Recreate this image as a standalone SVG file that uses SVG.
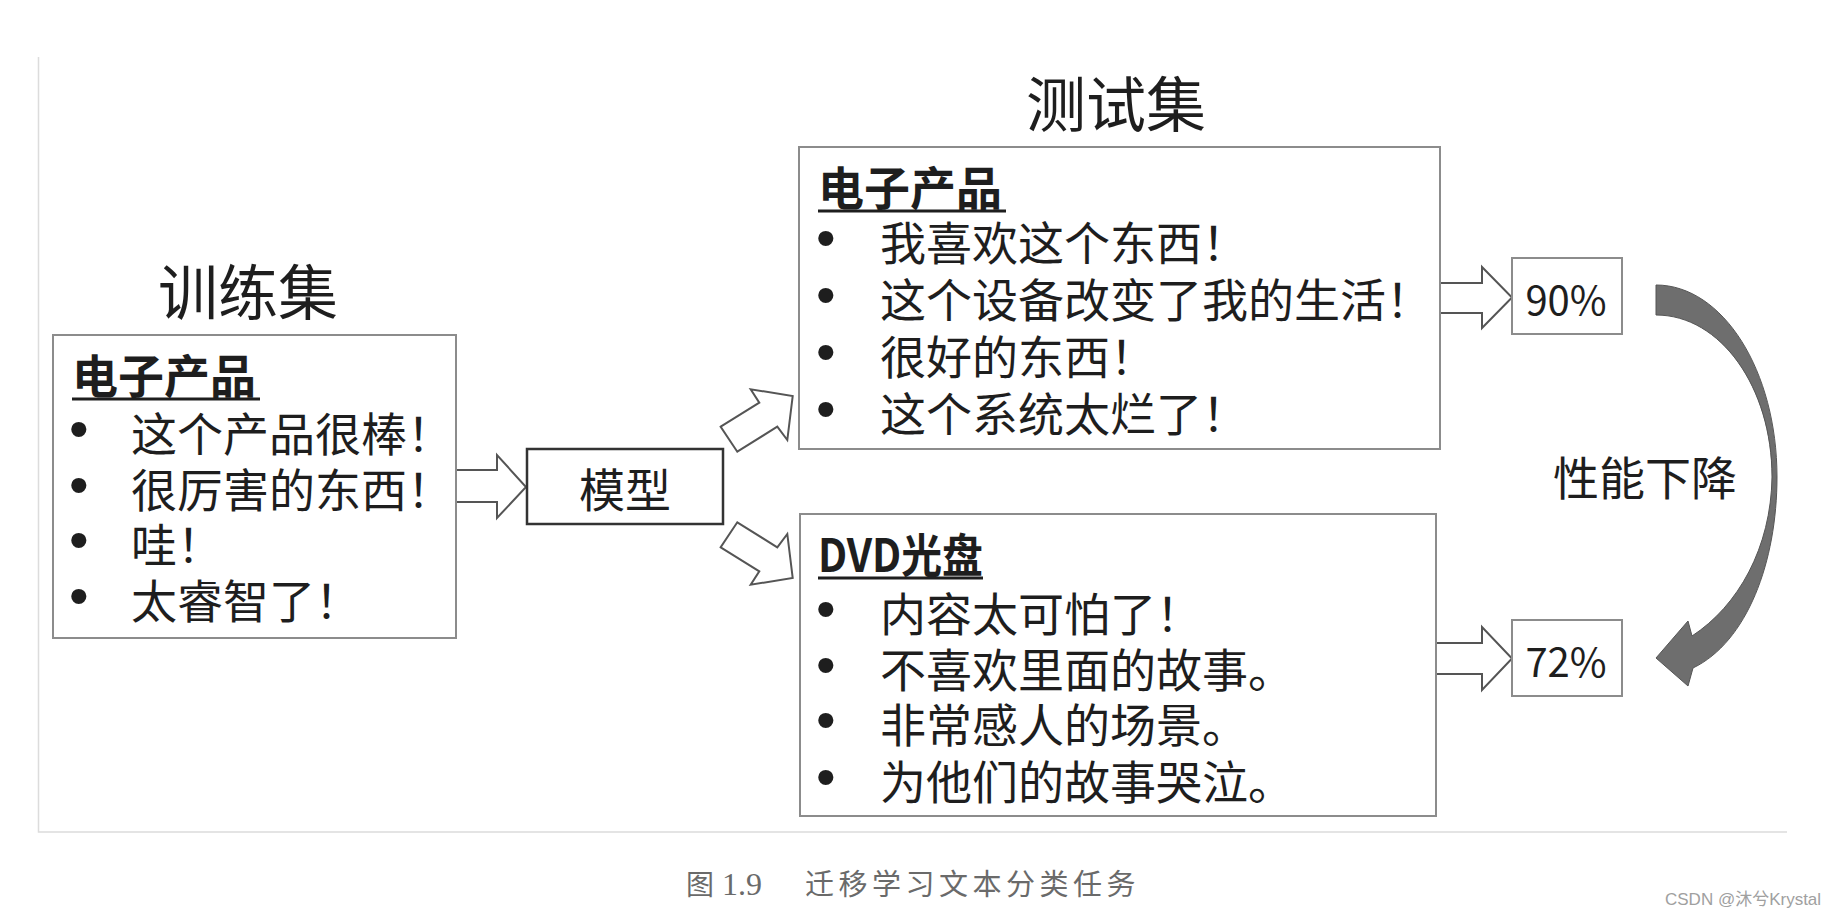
<svg xmlns="http://www.w3.org/2000/svg" width="1845" height="918" viewBox="0 0 1845 918">
<style>
.cn{font-family:"Noto Sans CJK SC","Noto Sans CJK TC",sans-serif;fill:#1e1e1e}
.title{font-size:60px}
.body{font-size:46px}
.hdr{font-size:46px;font-weight:bold}
.b{font-family:"Liberation Sans",sans-serif;font-size:56px}
.box{fill:#fff;stroke:#8c8c8c;stroke-width:2}
.ul{stroke:#1e1e1e;stroke-width:3}
.arr{fill:#fff;stroke:#555;stroke-width:2;stroke-linejoin:miter}
.pct{font-size:40px;text-anchor:middle}
.frame{stroke:#dcdcdc;stroke-width:1.5;fill:none}
</style>
<rect width="1845" height="918" fill="#fff"/>
<path class="frame" d="M38.5,57 V832 H1787"/>

<g id="connectors">
  <polygon class="arr" points="450,470 497,470 497,455 526,487 497,518 497,502 450,502"/>
  <polygon class="arr" points="720.7,426.7 759.3,402.7 750.7,389.3 792.7,396 787.3,440 777.3,426.7 737.3,451.7"/>
  <polygon class="arr" points="720.7,547.3 759.3,571.3 750.7,584.7 792.7,578 787.3,534 777.3,547.3 737.3,522.3"/>
  <polygon class="arr" points="1435,283 1482,283 1482,267 1512,297.5 1482,328 1482,313 1435,313"/>
  <polygon class="arr" points="1435,643 1482,643 1482,627 1512,658.5 1482,690 1482,674 1435,674"/>
  <path d="M1656,285 C1723,285 1777,371 1777,477 C1777,562 1747,642 1693,668 L1688,686 L1656,658 L1688,621 L1692,636 C1738,606 1771,548 1772,477 C1772,387.5 1720.6,315 1656,315 Z" fill="#6e6e6e" stroke="#555" stroke-width="1"/>
</g>

<g id="train">
  <text class="cn title" x="248" y="315" text-anchor="middle">训练集</text>
  <rect class="box" x="53" y="335" width="403" height="303" fill="none"/>
  <text class="cn hdr" x="72" y="393">电子产品</text>
  <line class="ul" x1="72" y1="399" x2="260" y2="399"/>
  <text class="cn body" y="451"><tspan class="b" x="69" dy="-3">•</tspan><tspan x="131" dy="3">这个产品很棒！</tspan></text>
  <text class="cn body" y="507"><tspan class="b" x="69" dy="-3">•</tspan><tspan x="131" dy="3">很厉害的东西！</tspan></text>
  <text class="cn body" y="562"><tspan class="b" x="69" dy="-3">•</tspan><tspan x="131" dy="3">哇！</tspan></text>
  <text class="cn body" y="618"><tspan class="b" x="69" dy="-3">•</tspan><tspan x="131" dy="3">太睿智了！</tspan></text>
</g>

<g id="model">
  <rect x="527" y="449" width="196" height="75" fill="#fff" stroke="#333" stroke-width="2.5"/>
  <text class="cn body" x="625" y="507" text-anchor="middle">模型</text>
</g>

<g id="test">
  <text class="cn title" x="1116" y="127" text-anchor="middle">测试集</text>
  <rect class="box" x="799" y="147" width="641" height="302"/>
  <text class="cn hdr" x="818" y="205">电子产品</text>
  <line class="ul" x1="818" y1="211" x2="1006" y2="211"/>
  <text class="cn body" y="260"><tspan class="b" x="816" dy="-3">•</tspan><tspan x="880" dy="3">我喜欢这个东西！</tspan></text>
  <text class="cn body" y="317"><tspan class="b" x="816" dy="-3">•</tspan><tspan x="880" dy="3">这个设备改变了我的生活！</tspan></text>
  <text class="cn body" y="374"><tspan class="b" x="816" dy="-3">•</tspan><tspan x="880" dy="3">很好的东西！</tspan></text>
  <text class="cn body" y="431"><tspan class="b" x="816" dy="-3">•</tspan><tspan x="880" dy="3">这个系统太烂了！</tspan></text>
</g>

<g id="dvd">
  <rect class="box" x="800" y="514" width="636" height="302" stroke="#a8a8a8"/>
  <text class="cn hdr" x="818" y="572" textLength="165" lengthAdjust="spacingAndGlyphs">DVD光盘</text>
  <line class="ul" x1="818" y1="578" x2="983" y2="578"/>
  <text class="cn body" y="631"><tspan class="b" x="816" dy="-3">•</tspan><tspan x="880" dy="3">内容太可怕了！</tspan></text>
  <text class="cn body" y="687"><tspan class="b" x="816" dy="-3">•</tspan><tspan x="880" dy="3">不喜欢里面的故事。</tspan></text>
  <text class="cn body" y="742"><tspan class="b" x="816" dy="-3">•</tspan><tspan x="880" dy="3">非常感人的场景。</tspan></text>
  <text class="cn body" y="799"><tspan class="b" x="816" dy="-3">•</tspan><tspan x="880" dy="3">为他们的故事哭泣。</tspan></text>
</g>

<g id="p90">
  <rect class="box" x="1512" y="258" width="110" height="76"/>
  <text class="cn pct" x="1566" y="315">90%</text>
</g>

<g id="p72">
  <rect class="box" x="1512" y="620" width="110" height="76"/>
  <text class="cn pct" x="1566" y="677">72%</text>
</g>

<g id="drop">
  <text class="cn body" x="1645" y="495" text-anchor="middle">性能下降</text>
</g>

<g id="caption">
  <text class="cn" x="686" y="895" font-size="28" style="fill:#6a6a6a">图</text>
  <text x="722" y="895" font-family="Liberation Serif, serif" font-size="32" fill="#6a6a6a">1.9</text>
  <text class="cn" x="805" y="895" font-size="29" letter-spacing="4.5" style="fill:#6a6a6a">迁移学习文本分类任务</text>
</g>

<g id="watermark">
  <text x="1665" y="905" font-family="Liberation Sans, Noto Sans CJK SC, sans-serif" font-size="17" fill="#a0a0a0">CSDN @沐兮Krystal</text>
</g>
</svg>
